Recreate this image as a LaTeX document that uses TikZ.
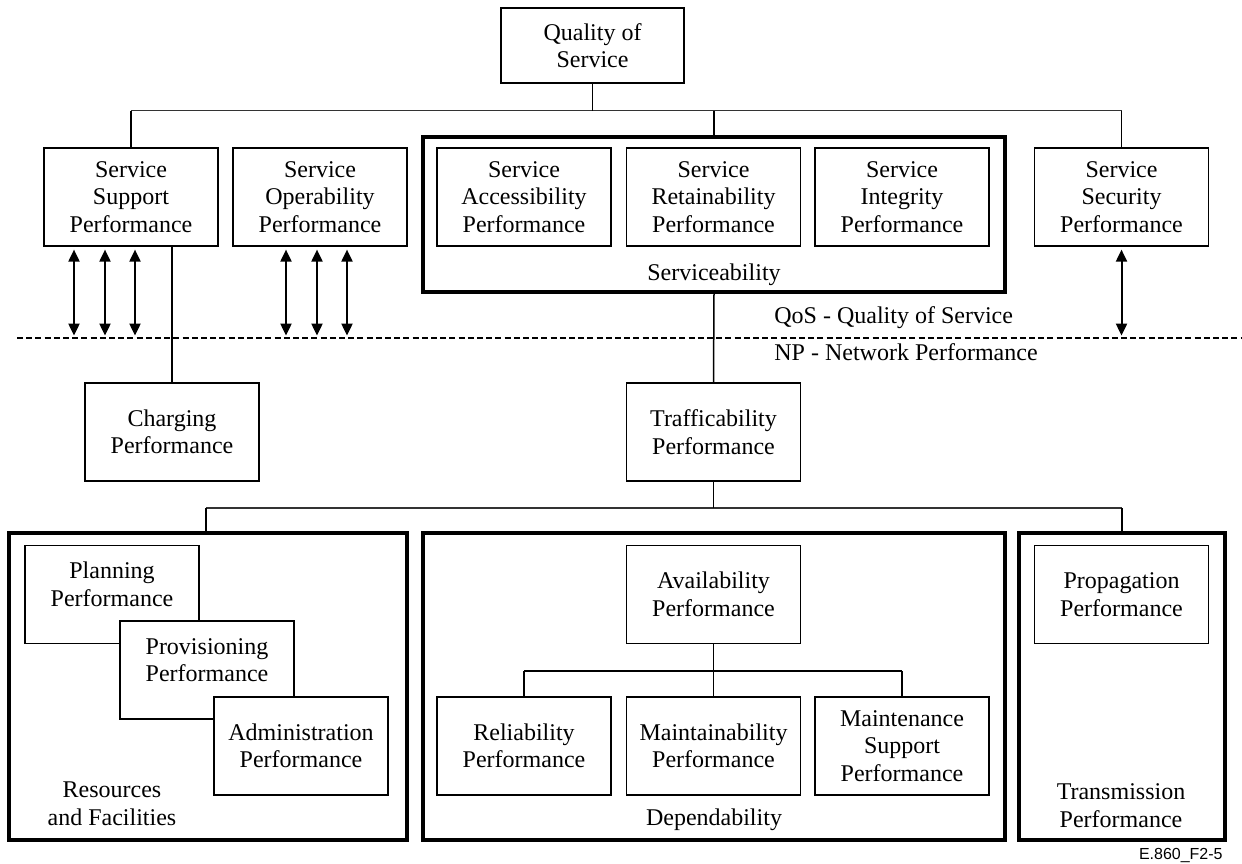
\documentclass[tikz,border=0pt]{standalone}
\usepackage{fontspec}
\setmainfont{Liberation Serif}
\newfontfamily\tagfont{Liberation Sans}
\usetikzlibrary{arrows.meta}
\begin{document}
\begin{tikzpicture}[x=0.5pt,y=-0.5pt,
  every node/.style={font=\fontsize{12}{13.75}\selectfont, align=center},
  pbox/.style={draw, line width=0.6pt, fill=white, minimum width=87pt, minimum height=49pt, inner sep=0pt},
  group/.style={draw, line width=1.6pt, inner sep=0pt},
  link/.style={line width=0.75pt},
  bus/.style={line width=0.6pt, draw=black!80},
  twoway/.style={line width=1pt, {Triangle[length=6pt,width=5.5pt]}-{Triangle[length=6pt,width=5.5pt]}},
  lbl/.style={inner sep=0pt}
]
\useasboundingbox (0,0) rectangle (1242,863);

% ---------------- QoS level ----------------
\node[pbox, minimum width=91.5pt, minimum height=37.5pt] (qos) at (592.5,45.5) {Quality of\\Service};

\node[group, minimum width=291pt, minimum height=77.5pt] (svc) at (714,214.5) {};
\node[lbl, anchor=base] (svclbl) at (714,280) {Serviceability};

\node[pbox] (sup) at (131,197) {Service\\Support\\Performance};
\node[pbox] (opr) at (320,197) {Service\\Operability\\Performance};
\node[pbox] (acc) at (524,197) {Service\\Accessibility\\Performance};
\node[pbox] (ret) at (713.5,197) {Service\\Retainability\\Performance};
\node[pbox] (itg) at (902,197) {Service\\Integrity\\Performance};
\node[pbox] (sec) at (1121.5,197) {Service\\Security\\Performance};

% bus below Quality of Service
\coordinate (busAL) at (131,110.5);
\coordinate (busAR) at (1121.5,110.5);
\draw[bus] (busAL) -- (busAR);
\draw[link] (qos.south) -- (qos.south |- busAL);
\draw[link] (busAL) -- (sup.north);
\draw[link] (svc.north) -- (svc.north |- busAL);
\draw[link] (busAR) -- (sec.north);

% QoS / NP boundary
\coordinate (dashL) at (17,338);
\coordinate (dashR) at (1242,338);
\draw[line width=0.6pt, dash pattern=on 3pt off 1.6pt] (dashL) -- (dashR);
\node[lbl, anchor=base west] (qoslbl) at (774,323) {QoS - Quality of Service};
\node[lbl, anchor=base west] (nplbl) at (774,360) {NP - Network Performance};

% two-way arrows across the boundary
\foreach \dx in {-28.5,-13,2}
  \draw[twoway] ([xshift=\dx pt,yshift=-1.5pt]sup.south) -- ++(0,86);
\foreach \dx in {-17,-1.5,13.5}
  \draw[twoway] ([xshift=\dx pt,yshift=-1.5pt]opr.south) -- ++(0,86);
\draw[twoway] ([yshift=-1.5pt]sec.south) -- ++(0,86);

% ---------------- NP level ----------------
\node[pbox] (chg) at (172,432) {Charging\\Performance};
\node[pbox] (trf) at (713.5,432) {Trafficability\\Performance};
\draw[link] (chg.north) -- (chg.north |- sup.south);
\draw[link] (svc.south) -- (trf.north);

% groups
\node[group, minimum width=199pt, minimum height=153.5pt] (res) at (208,686.5) {};
\node[group, minimum width=291pt, minimum height=153.5pt] (dep) at (714,686.5) {};
\node[group, minimum width=103pt, minimum height=153.5pt] (trn) at (1122,686.5) {};

% bus below Trafficability
\coordinate (busBL) at (206,508);
\coordinate (busBR) at (1122,508);
\draw[bus] (busBL) -- (busBR);
\draw[link] (trf.south) -- (trf.south |- busBL);
\draw[link] (busBL) -- (busBL |- res.north);
\draw[link] (busBR) -- (trn.north);

% Resources and Facilities
\node[pbox] (pln) at (112,594.5) {};
\node[lbl] (plntxt) at ([yshift=5pt]pln.center) {Planning\\Performance};
\node[pbox] (prv) at (207,670) {};
\node[lbl] (prvtxt) at ([yshift=5pt]prv.center) {Provisioning\\Performance};
\node[pbox] (adm) at (301,746) {Administration\\Performance};
\node[lbl] (reslbl) at (112,803.5) {Resources\\and Facilities};

% Dependability
\node[pbox] (avl) at (713.5,594.5) {Availability\\Performance};
\node[pbox] (rel) at (524,746) {Reliability\\Performance};
\node[pbox] (mnt) at (713.5,746) {Maintainability\\Performance};
\node[pbox] (msp) at (902,746) {Maintenance\\Support\\Performance};
\node[lbl, anchor=base] (deplbl) at (714,825) {Dependability};

\coordinate (busCL) at (524,671);
\coordinate (busCR) at (902,671);
\draw[link, line width=0.6pt] (busCL) -- (busCR);
\draw[link] (avl.south) -- (mnt.north);
\draw[link] (busCL) -- (rel.north);
\draw[link] (busCR) -- (msp.north);

% Transmission
\node[pbox] (prp) at (1121.5,594.5) {Propagation\\Performance};
\node[lbl] (trnlbl) at (1121,805.5) {Transmission\\Performance};

% figure tag
\node[lbl, anchor=base east, font=\tagfont\fontsize{8}{9.6}\selectfont] (tag) at (1223,859) {E.860\_F2-5};
\end{tikzpicture}
\end{document}
